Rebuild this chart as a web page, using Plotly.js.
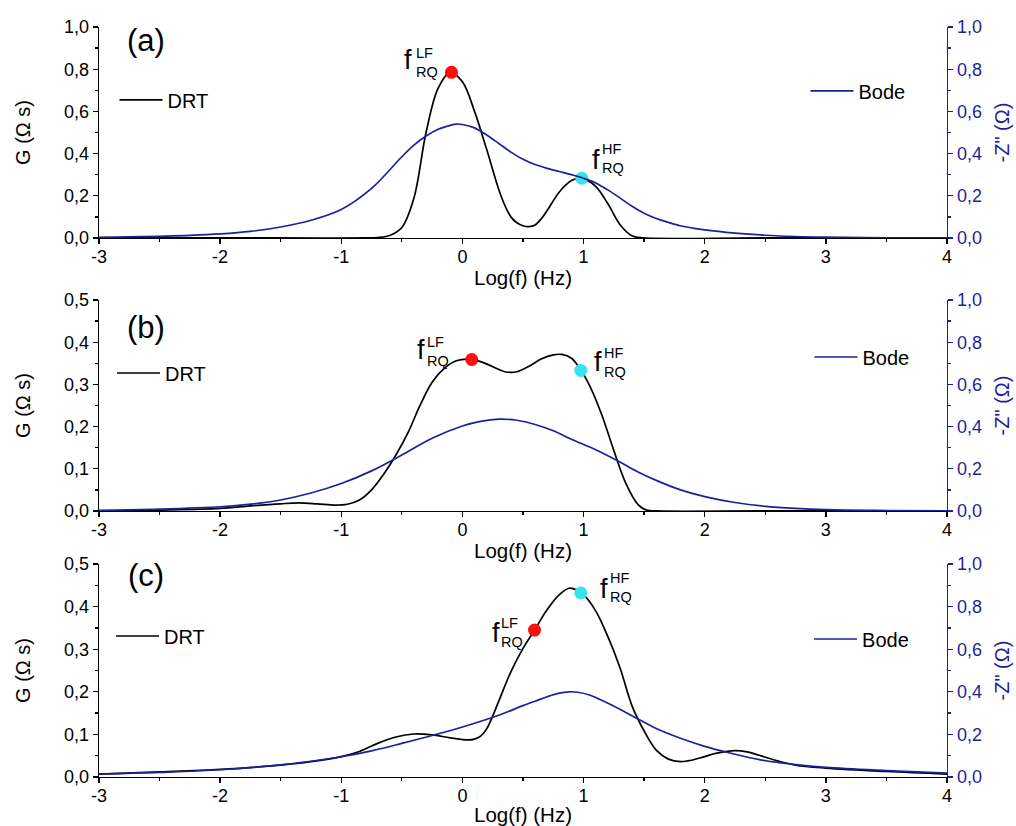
<!DOCTYPE html>
<html><head><meta charset="utf-8">
<script src="https://cdn.plot.ly/plotly-3.0.1.min.js"></script>
<style>html,body{margin:0;padding:0;background:#fff}#chart{width:1016px;height:826px}</style>
</head><body><div id="chart"></div>
<script>
// ---------- tick labels ----------
const xTickVals = [-3, -2, -1, 0, 1, 2, 3, 4];
const xTickText = ['-3', '-2', '-1', '0', '1', '2', '3', '4'];

// ---------- panel (a) ----------
const drtA_x = [-3, -1.5, -0.8, -0.7, -0.6, -0.5, -0.4, -0.3, -0.2, -0.1, 0, 0.1, 0.2, 0.3, 0.35, 0.4, 0.45, 0.5, 0.55, 0.6, 0.65, 0.7, 0.8, 0.9, 0.95, 1.0, 1.1, 1.2, 1.3, 1.4, 1.5, 2.5, 4];
const drtA_y = [0, 0, 0, 0.002, 0.012, 0.05, 0.19, 0.5, 0.71, 0.785, 0.74, 0.6, 0.42, 0.23, 0.155, 0.1, 0.072, 0.058, 0.054, 0.062, 0.09, 0.13, 0.218, 0.272, 0.282, 0.28, 0.245, 0.163, 0.064, 0.01, 0, 0, 0];
const bodeA_x = [-3, -2.75, -2.5, -2.25, -2, -1.75, -1.5, -1.25, -1, -0.75, -0.5, -0.4, -0.3, -0.2, -0.1, -0.05, 0, 0.1, 0.2, 0.3, 0.4, 0.5, 0.6, 0.7, 0.8, 0.9, 1.0, 1.1, 1.2, 1.3, 1.4, 1.5, 1.6, 1.7, 1.8, 1.9, 2.0, 2.25, 2.5, 2.75, 3, 3.5, 4];
const bodeA_y = [0.003, 0.005, 0.008, 0.012, 0.019, 0.031, 0.052, 0.084, 0.135, 0.235, 0.385, 0.44, 0.483, 0.515, 0.534, 0.54, 0.538, 0.522, 0.488, 0.448, 0.407, 0.373, 0.348, 0.33, 0.315, 0.3, 0.283, 0.261, 0.228, 0.19, 0.15, 0.117, 0.092, 0.074, 0.058, 0.047, 0.038, 0.023, 0.013, 0.007, 0.004, 0.001, 0];
const lfA = {x: [-0.09], y: [0.785]};
const hfA = {x: [0.985], y: [0.283]};

// ---------- panel (b) ----------
const drtB_x = [-3, -2.5, -2, -1.75, -1.5, -1.35, -1.2, -1.05, -0.95, -0.85, -0.75, -0.65, -0.55, -0.45, -0.35, -0.25, -0.15, -0.05, 0.05, 0.15, 0.25, 0.35, 0.45, 0.55, 0.65, 0.75, 0.82, 0.9, 0.98, 1.05, 1.15, 1.25, 1.35, 1.45, 1.52, 1.6, 2.5, 4];
const drtB_y = [0, 0.002, 0.006, 0.012, 0.017, 0.019, 0.017, 0.014, 0.016, 0.026, 0.05, 0.087, 0.132, 0.185, 0.25, 0.305, 0.338, 0.356, 0.36, 0.354, 0.342, 0.33, 0.33, 0.343, 0.36, 0.37, 0.371, 0.362, 0.333, 0.297, 0.228, 0.143, 0.065, 0.015, 0.002, 0, 0, 0];
const bodeB_x = [-3, -2.5, -2, -1.75, -1.5, -1.25, -1.0, -0.75, -0.5, -0.25, 0, 0.15, 0.3, 0.45, 0.6, 0.75, 0.9, 1.1, 1.3, 1.45, 1.6, 1.8, 2.0, 2.25, 2.5, 2.75, 3, 3.5, 4];
const bodeB_y = [0.003, 0.009, 0.02, 0.032, 0.052, 0.085, 0.13, 0.19, 0.265, 0.345, 0.403, 0.425, 0.435, 0.43, 0.41, 0.38, 0.34, 0.29, 0.232, 0.185, 0.145, 0.10, 0.068, 0.04, 0.022, 0.012, 0.006, 0.002, 0];
const lfB = {x: [0.077], y: [0.359]};
const hfB = {x: [0.977], y: [0.333]};

// ---------- panel (c) ----------
const drtC_x = [-3, -2.5, -2, -1.5, -1.25, -1, -0.85, -0.7, -0.55, -0.4, -0.25, -0.1, 0.05, 0.1, 0.15, 0.2, 0.25, 0.3, 0.4, 0.5, 0.6, 0.7, 0.8, 0.88, 0.95, 1.0, 1.1, 1.2, 1.3, 1.4, 1.5, 1.6, 1.7, 1.8, 1.9, 2.0, 2.1, 2.25, 2.35, 2.45, 2.6, 2.75, 3.0, 3.5, 4];
const drtC_y = [0.007, 0.012, 0.018, 0.028, 0.036, 0.048, 0.06, 0.079, 0.094, 0.101, 0.099, 0.092, 0.087, 0.089, 0.096, 0.113, 0.143, 0.178, 0.247, 0.302, 0.347, 0.393, 0.428, 0.443, 0.438, 0.428, 0.39, 0.33, 0.257, 0.167, 0.108, 0.063, 0.042, 0.036, 0.04, 0.048, 0.056, 0.062, 0.059, 0.051, 0.038, 0.028, 0.021, 0.013, 0.007];
const bodeC_x = [-3, -2.5, -2, -1.5, -1.25, -1.0, -0.75, -0.5, -0.25, 0, 0.3, 0.5, 0.6, 0.7, 0.8, 0.88, 0.95, 1.05, 1.15, 1.3, 1.45, 1.6, 1.8, 2.0, 2.2, 2.45, 2.75, 3.0, 3.5, 4];
const bodeC_y = [0.014, 0.022, 0.034, 0.057, 0.074, 0.095, 0.123, 0.158, 0.195, 0.235, 0.29, 0.335, 0.356, 0.377, 0.394, 0.40, 0.398, 0.385, 0.36, 0.318, 0.272, 0.228, 0.182, 0.144, 0.114, 0.082, 0.058, 0.045, 0.03, 0.018];
const lfC = {x: [0.595], y: [0.345]};
const hfC = {x: [0.977], y: [0.432]};

// ---------- styling ----------
const FONT = 'Arial, "Liberation Sans", sans-serif';
const NAVY = '#1f1f99';
const RED = '#ff0d0d';
const CYAN = '#36e4f0';

const panels = [
  {drtX: drtA_x, drtY: drtA_y, bodeX: bodeA_x, bodeY: bodeA_y, lf: lfA, hf: hfA, yMax: 1.0, yDtick: 0.2, yMinor: 0.1, dom: [0.7119, 0.9673]},
  {drtX: drtB_x, drtY: drtB_y, bodeX: bodeB_x, bodeY: bodeB_y, lf: lfB, hf: hfB, yMax: 0.5, yDtick: 0.1, yMinor: 0.05, dom: [0.3814, 0.6368]},
  {drtX: drtC_x, drtY: drtC_y, bodeX: bodeC_x, bodeY: bodeC_y, lf: lfC, hf: hfC, yMax: 0.5, yDtick: 0.1, yMinor: 0.05, dom: [0.0593, 0.3172]}
];
const panelLabels = ['(a)', '(b)', '(c)'];
const panelLabelPos = [[-2.612, 0.938], [-2.612, 0.434], [-2.612, 0.474]];
const fLabelPos = [
  {lf: [-0.448, 0.844, -0.399, 0.832], hf: [1.104, 0.370, 1.137, 0.379]},
  {lf: [-0.341, 0.3815, -0.308, 0.377], hf: [1.121, 0.353, 1.154, 0.351]},
  {lf: [0.278, 0.338, 0.303, 0.340], hf: [1.170, 0.441, 1.203, 0.446]}
];
const legendPos = [
  {drt: [0.1127, 0.879], bode: [0.7928, 0.890]},
  {drt: [0.1102, 0.5484], bode: [0.7967, 0.5678]},
  {drt: [0.1093, 0.230], bode: [0.7963, 0.2264]}
];

const traces = [];
const layout = {
  width: 1016, height: 826,
  margin: {l: 0, r: 0, t: 0, b: 0},
  paper_bgcolor: '#fff', plot_bgcolor: '#fff',
  font: {family: FONT, color: '#000', size: 18},
  separators: ',.',
  showlegend: true,
  hovermode: false,
  annotations: []
};

panels.forEach((p, i) => {
  const n = i + 1;
  const xa = n === 1 ? 'x' : 'x' + n;
  const ya = n === 1 ? 'y' : 'y' + n;
  const yr = 'y' + (n + 3);
  const legD = n === 1 ? 'legend' : 'legend' + (2 * n - 1);
  const legB = 'legend' + (2 * n);

  traces.push({x: p.drtX, y: p.drtY, xaxis: xa, yaxis: ya, type: 'scatter', mode: 'lines', name: 'DRT',
    line: {color: '#000', width: 1.7, shape: 'spline', smoothing: 1}, legend: legD});
  traces.push({x: p.bodeX, y: p.bodeY, xaxis: xa, yaxis: yr, type: 'scatter', mode: 'lines', name: 'Bode',
    line: {color: NAVY, width: 1.7, shape: 'spline', smoothing: 1}, legend: legB});
  traces.push({x: p.lf.x, y: p.lf.y, xaxis: xa, yaxis: ya, type: 'scatter', mode: 'markers', showlegend: false,
    marker: {color: RED, size: 13}});
  traces.push({x: p.hf.x, y: p.hf.y, xaxis: xa, yaxis: ya, type: 'scatter', mode: 'markers', showlegend: false,
    marker: {color: CYAN, size: 13}});

  layout['xaxis' + (n === 1 ? '' : n)] = {
    domain: [0.0974, 0.9321], anchor: ya, range: [-3, 4],
    tickmode: 'array', tickvals: xTickVals, ticktext: xTickText,
    ticks: 'outside', ticklen: 5, tickwidth: 1.3, tickcolor: '#000', ticklabelstandoff: -3,
    minor: {dtick: 0.5, tick0: -3, ticks: 'outside', ticklen: 3, tickwidth: 1.3, tickcolor: '#000'},
    showline: true, linecolor: '#000', linewidth: 1.3,
    showgrid: false, zeroline: false,
    tickfont: {size: 18, color: '#000'},
    title: {text: 'Log(f) (Hz)', font: {size: 20.5, color: '#000'}, standoff: 4}
  };
  layout['yaxis' + (n === 1 ? '' : n)] = {
    domain: p.dom, anchor: xa, range: [0, p.yMax],
    tickmode: 'linear', tick0: 0, dtick: p.yDtick, tickformat: '.1f',
    ticks: 'outside', ticklen: 5, tickwidth: 1.3, tickcolor: '#000',
    minor: {dtick: p.yMinor, tick0: 0, ticks: 'outside', ticklen: 3, tickwidth: 1.3, tickcolor: '#000'},
    showline: true, linecolor: '#000', linewidth: 1.3,
    showgrid: false, zeroline: false,
    tickfont: {size: 18, color: '#000'},
    title: {text: 'G (Ω s)', font: {size: 20, color: '#000'}, standoff: 28}
  };
  layout['yaxis' + (n + 3)] = {
    overlaying: ya, anchor: xa, side: 'right', range: [0, 1],
    tickmode: 'linear', tick0: 0, dtick: 0.2, tickformat: '.1f',
    ticks: 'outside', ticklen: 5, tickwidth: 1.3, tickcolor: NAVY,
    minor: {dtick: 0.1, tick0: 0, ticks: 'outside', ticklen: 3, tickwidth: 1.3, tickcolor: NAVY},
    showline: true, linecolor: NAVY, linewidth: 1.3,
    showgrid: false, zeroline: false,
    tickfont: {size: 18, color: NAVY},
    title: {text: '-Z" (Ω)', font: {size: 20, color: NAVY}, standoff: 14}
  };

  const legCommon = {xanchor: 'left', yanchor: 'middle', bgcolor: 'rgba(0,0,0,0)', borderwidth: 0,
    font: {size: 20, color: '#000'}, itemwidth: 43, itemclick: false, itemdoubleclick: false};
  layout[legD] = Object.assign({}, legCommon, {x: legendPos[i].drt[0], y: legendPos[i].drt[1]});
  layout[legB] = Object.assign({}, legCommon, {x: legendPos[i].bode[0], y: legendPos[i].bode[1]});

  layout.annotations.push({xref: xa, yref: ya, x: panelLabelPos[i][0], y: panelLabelPos[i][1],
    text: panelLabels[i], showarrow: false, xanchor: 'center', yanchor: 'middle', font: {size: 31, color: '#000'}});
  ['lf', 'hf'].forEach(k => {
    const q = fLabelPos[i][k];
    layout.annotations.push({xref: xa, yref: ya, x: q[0], y: q[1], text: 'f', showarrow: false,
      xanchor: 'center', yanchor: 'middle', font: {size: 27, color: '#000'}});
    layout.annotations.push({xref: xa, yref: ya, x: q[2], y: q[3], text: (k === 'lf' ? 'LF' : 'HF') + '<br>RQ',
      showarrow: false, xanchor: 'left', yanchor: 'middle', align: 'left', font: {size: 14.5, color: '#000'}});
  });
});

Plotly.newPlot('chart', traces, layout, {displayModeBar: false, staticPlot: true});
</script>
</body></html>
